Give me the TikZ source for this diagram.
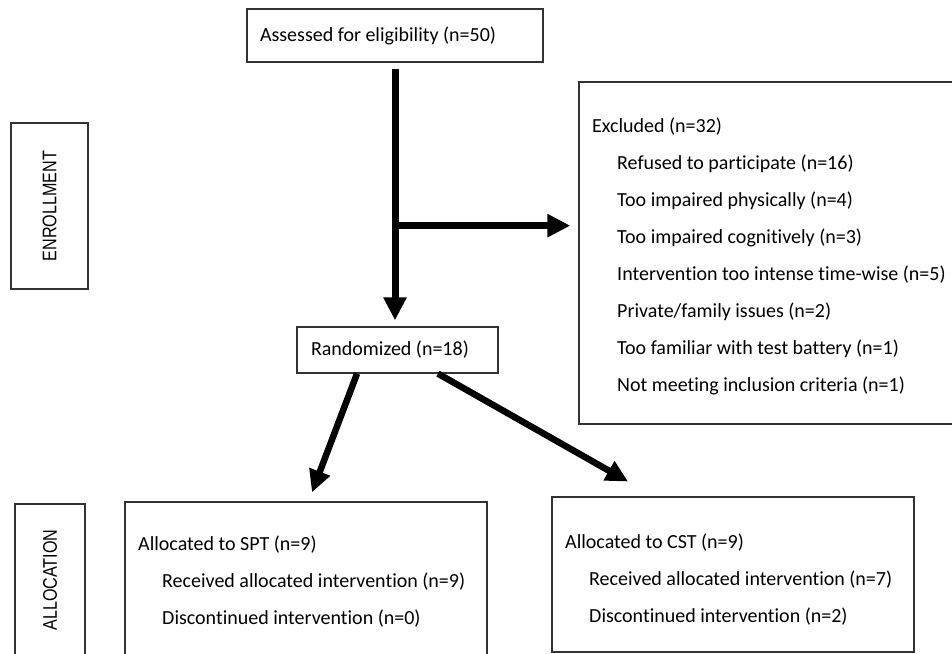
\documentclass[tikz,border=0pt]{standalone}
\usepackage{fontspec}
\setmainfont{Carlito}[RawFeature={-liga}]
\newfontfamily\capsfont{Liberation Sans}[FakeStretch=0.82]
\usetikzlibrary{arrows.meta,calc}
\begin{document}
\begin{tikzpicture}[x=1pt,y=-1pt,
  box/.style={draw=black!80, line width=1.3pt, inner sep=0pt},
  boxtext/.style={font=\fontsize{20}{24}\selectfont},
  txt/.style={inner sep=0pt, align=left, anchor=west, font=\fontsize{20}{37}\selectfont},
  flow/.style={line width=7pt, -{Triangle[length=23pt,width=22pt]}},
  flowd/.style={line width=6.5pt, -{Triangle[length=22pt,width=21pt]}},
  side/.style={box, rotate=90, font=\capsfont\fontsize{19.7}{22}\selectfont}
]
\useasboundingbox (0,0) rectangle (952,653);
\clip (0,0) rectangle (952,653);

% boxes
\node[box, boxtext, minimum width=296pt, minimum height=53pt] (assess) at (395,35.5) {\makebox[270pt][l]{Assessed for eligibility (n=50)}};
\node[box, boxtext, minimum width=201pt, minimum height=46pt] (random) at (397.5,350) {\makebox[173pt][l]{Randomized (n=18)}};
\node[box, minimum width=391pt, minimum height=342pt] (excl) at (774.5,253) {};
\node[box, minimum width=362pt, minimum height=168pt] (spt) at (306,586) {};
\node[box, minimum width=362pt, minimum height=155pt] (cst) at (733,574.5) {};
\node[side, minimum width=166pt, minimum height=77pt] (enrol) at (49.5,206) {ENROLLMENT};
\node[side, minimum width=152pt, minimum height=70pt] (alloc) at (50,580) {ALLOCATION};

% texts
\node[txt] (excltext) at (592,256.5) {Excluded (n=32)\\
\hspace*{25pt}Refused to participate (n=16)\\
\hspace*{25pt}Too impaired physically (n=4)\\
\hspace*{25pt}Too impaired cognitively (n=3)\\
\hspace*{25pt}Intervention too intense time-wise (n=5)\\
\hspace*{25pt}Private/family issues (n=2)\\
\hspace*{25pt}Too familiar with test battery (n=1)\\
\hspace*{25pt}Not meeting inclusion criteria (n=1)};
\node[txt] (spttext) at (138,582) {Allocated to SPT (n=9)\\
\hspace*{24pt}Received allocated intervention (n=9)\\
\hspace*{24pt}Discontinued intervention (n=0)};
\node[txt] (csttext) at (565,580) {Allocated to CST (n=9)\\
\hspace*{24pt}Received allocated intervention (n=7)\\
\hspace*{24pt}Discontinued intervention (n=2)};

% connectors
\path (assess.south) ++(0,163) coordinate (branch);
\draw[flow, shorten <=6pt, shorten >=6pt] (assess.south) -- (assess.south |- random.north);
\draw[flow, shorten >=8pt] (branch) -- (branch -| excl.west);
\draw[flowd, shorten >=9.7pt] ($(random.south west)!0.3!(random.south east)$) -- ($(spt.north west)!0.507!(spt.north east)$);
\draw[flowd, shorten >=30pt] ($(random.south west)!0.7!(random.south east)$) -- ($(cst.north west)!0.283!(cst.north east)$);
\end{tikzpicture}
\end{document}
